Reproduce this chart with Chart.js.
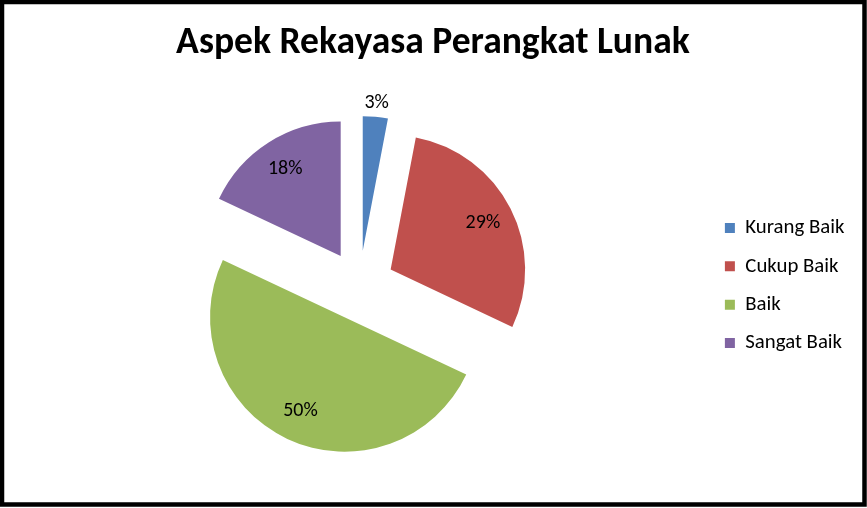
<!DOCTYPE html>
<html><head><meta charset="utf-8">
<script src="https://cdn.jsdelivr.net/npm/chart.js@4/dist/chart.umd.min.js"></script>
<style>html,body{margin:0;padding:0;background:#fff}canvas{display:block}</style>
</head><body>
<canvas id="c" width="867" height="508"></canvas>
<script>
const titleText = 'Aspek Rekayasa Perangkat Lunak';
const categories = ['Kurang Baik', 'Cukup Baik', 'Baik', 'Sangat Baik'];
const values = [3, 29, 50, 18];
const colors = ['#4F81BD', '#C0504D', '#9BBB59', '#8064A2'];

const FONT = 'Carlito, Calibri, Lato, sans-serif';
const EXPLODE = 35;
const RADIUS = 134.5;

const explodePlugin = {
  id: 'explode',
  afterDatasetUpdate(chart, args) {
    args.meta.data.forEach(arc => {
      const mid = (arc.startAngle + arc.endAngle) / 2;
      arc.x += Math.cos(mid) * EXPLODE;
      arc.y += Math.sin(mid) * EXPLODE;
    });
  }
};

const labelPlugin = {
  id: 'pieLabels',
  afterDatasetsDraw(chart) {
    const ctx = chart.ctx;
    const meta = chart.getDatasetMeta(0);
    const total = values.reduce((a, b) => a + b, 0);
    ctx.save();
    ctx.font = '20px ' + FONT;
    ctx.fillStyle = '#000';
    ctx.textAlign = 'center';
    ctx.textBaseline = 'middle';
    meta.data.forEach((arc, i) => {
      const mid = (arc.startAngle + arc.endAngle) / 2;
      const pct = values[i] / total;
      const f = pct < 0.05 ? 1.1 : 0.77;
      const r = arc.outerRadius * f;
      ctx.fillText(Math.round(pct * 100) + '%', arc.x + Math.cos(mid) * r, arc.y + Math.sin(mid) * r);
    });
    ctx.restore();
  }
};

const borderPlugin = {
  id: 'frame',
  afterDraw(chart) {
    const ctx = chart.ctx;
    ctx.save();
    ctx.lineWidth = 4.5;
    ctx.strokeStyle = '#000';
    ctx.strokeRect(2, 2, 862.5, 502.5);
    ctx.restore();
  }
};

new Chart(document.getElementById('c'), {
  type: 'pie',
  data: {
    labels: categories,
    datasets: [{ data: values, backgroundColor: colors, borderWidth: 0 }]
  },
  options: {
    responsive: false,
    animation: false,
    events: [],
    radius: RADIUS,
    layout: { padding: { left: 11.5, right: 12.6, top: 0, bottom: 7.2 } },
    plugins: {
      title: {
        display: true, text: titleText, color: '#000',
        font: { family: FONT, size: 37.6, weight: 'bold', lineHeight: 1.2 },
        padding: { top: 21, bottom: 4.1 }
      },
      legend: {
        position: 'right',
        fullSize: false,
        labels: { boxWidth: 10, boxHeight: 10, padding: 17.5, color: '#000', font: { family: FONT, size: 20.8 } }
      },
      tooltip: { enabled: false }
    }
  },
  plugins: [explodePlugin, labelPlugin, borderPlugin]
});
</script>
</body></html>
